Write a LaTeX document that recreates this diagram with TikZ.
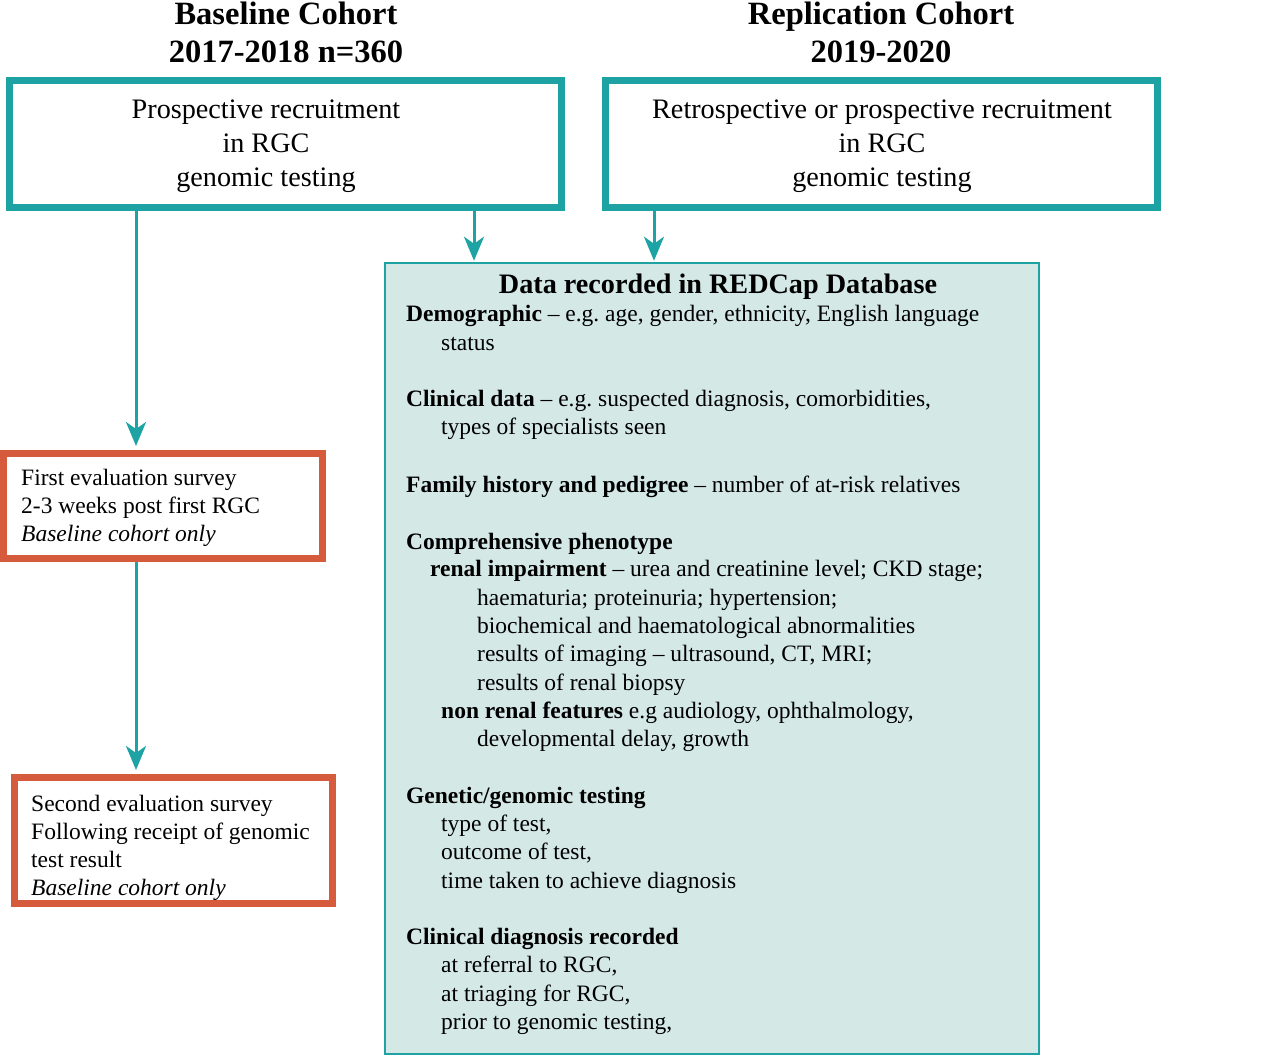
\documentclass[tikz,border=0pt]{standalone}
\usepackage{fontspec}
\setmainfont{Liberation Serif}
\usetikzlibrary{arrows.meta}
\definecolor{tealc}{RGB}{30,163,165}
\definecolor{tealfill}{RGB}{212,233,230}
\definecolor{orangec}{RGB}{214,90,60}
\frenchspacing
\tikzset{
  tealbox/.style={draw=tealc, line width=7pt, fill=white, inner sep=0pt},
  orangebox/.style={draw=orangec, line width=7pt, fill=white, inner sep=0pt},
  dbbox/.style={draw=tealc, line width=2.5pt, fill=tealfill, inner sep=0pt},
  arr/.style={draw=tealc, line width=3pt, -{Stealth[length=24pt,width=20pt,inset=7pt]}},
  hdr/.style={font=\fontsize{32.5}{38}\selectfont\bfseries, align=center, inner sep=0pt},
  boxtxt/.style={font=\fontsize{28.2}{34}\selectfont, align=center, inner sep=0pt},
  sv/.style={font=\fontsize{23.5}{28}\selectfont, align=left, anchor=north west, inner sep=0pt},
  ln/.style={font=\fontsize{23.5}{28}\selectfont, anchor=base west, inner sep=0pt},
}
\begin{document}
\begin{tikzpicture}[x=1pt,y=-1pt]
\useasboundingbox (0,0) rectangle (1280,1056);
% headers
\node[hdr] (h1) at (286,32) {Baseline Cohort\\2017-2018 n=360};
\node[hdr] (h2) at (881,32) {Replication Cohort\\2019-2020};
% database box
\node[dbbox, minimum width=654, minimum height=791] (db) at (712,658.5) {};
% top boxes
\node[tealbox, minimum width=552, minimum height=127] (ba) at (285.5,144.5) {};
\node[boxtxt] (ta) at (266,146.5) {Prospective recruitment\\in RGC\\genomic testing};
\node[tealbox, minimum width=552, minimum height=127] (bb) at (881.5,144.5) {};
\node[boxtxt] (tb) at (882,146.5) {Retrospective or prospective recruitment\\in RGC\\genomic testing};
% survey boxes
\node[orangebox, minimum width=319, minimum height=105] (s1) at (162.5,505.5) {};
\node[sv] (s1t) at (21,469) {First evaluation survey\\2-3 weeks post first RGC\\\textit{Baseline cohort only}};
\node[orangebox, minimum width=318, minimum height=126] (s2) at (173,840) {};
\node[sv] (s2t) at (31,795) {Second evaluation survey\\Following receipt of genomic\\test result\\\textit{Baseline cohort only}};
% connector columns
\coordinate (c1) at (136,0);
\coordinate (c2) at (474,0);
\coordinate (c3) at (654,0);
\draw[arr, shorten >=3.5pt] (ba.south -| c1) -- (s1.north -| c1);
\draw[arr, shorten >=3.5pt] (s1.south -| c1) -- (s2.north -| c1);
\draw[arr, shorten >=1pt] (ba.south -| c2) -- (db.north -| c2);
\draw[arr, shorten >=1pt] (bb.south -| c3) -- (db.north -| c3);
% database text
\node[font=\fontsize{28.2}{34}\selectfont\bfseries, inner sep=0pt, anchor=base] (dt) at (718,294) {Data recorded in REDCap Database};
\node[ln] (l1) at (406,322) {\textbf{Demographic} -- e.g. age, gender, ethnicity, English language};
\node[ln] (l2) at (441,351) {status};
\node[ln] (l3) at (406,407) {\textbf{Clinical data} -- e.g. suspected diagnosis, comorbidities,};
\node[ln] (l4) at (441,435) {types of specialists seen};
\node[ln] (l5) at (406,492) {\textbf{Family history and pedigree} -- number of at-risk relatives};
\node[ln] (l6) at (406,549) {\textbf{Comprehensive phenotype}};
\node[ln] (l7) at (430,576) {\textbf{renal impairment} -- urea and creatinine level; CKD stage;};
\node[ln] (l8) at (477,605) {haematuria; proteinuria; hypertension;};
\node[ln] (l9) at (477,633) {biochemical and haematological abnormalities};
\node[ln] (l10) at (477,661) {results of imaging -- ultrasound, CT, MRI;};
\node[ln] (l11) at (477,690) {results of renal biopsy};
\node[ln] (l12) at (441,718) {\textbf{non renal features} e.g audiology, ophthalmology,};
\node[ln] (l13) at (477,746) {developmental delay, growth};
\node[ln] (l14) at (406,803) {\textbf{Genetic/genomic testing}};
\node[ln] (l15) at (441,831) {type of test,};
\node[ln] (l16) at (441,859) {outcome of test,};
\node[ln] (l17) at (441,888) {time taken to achieve diagnosis};
\node[ln] (l18) at (406,944) {\textbf{Clinical diagnosis recorded}};
\node[ln] (l19) at (441,972) {at referral to RGC,};
\node[ln] (l20) at (441,1001) {at triaging for RGC,};
\node[ln] (l21) at (441,1029) {prior to genomic testing,};
\end{tikzpicture}
\end{document}
